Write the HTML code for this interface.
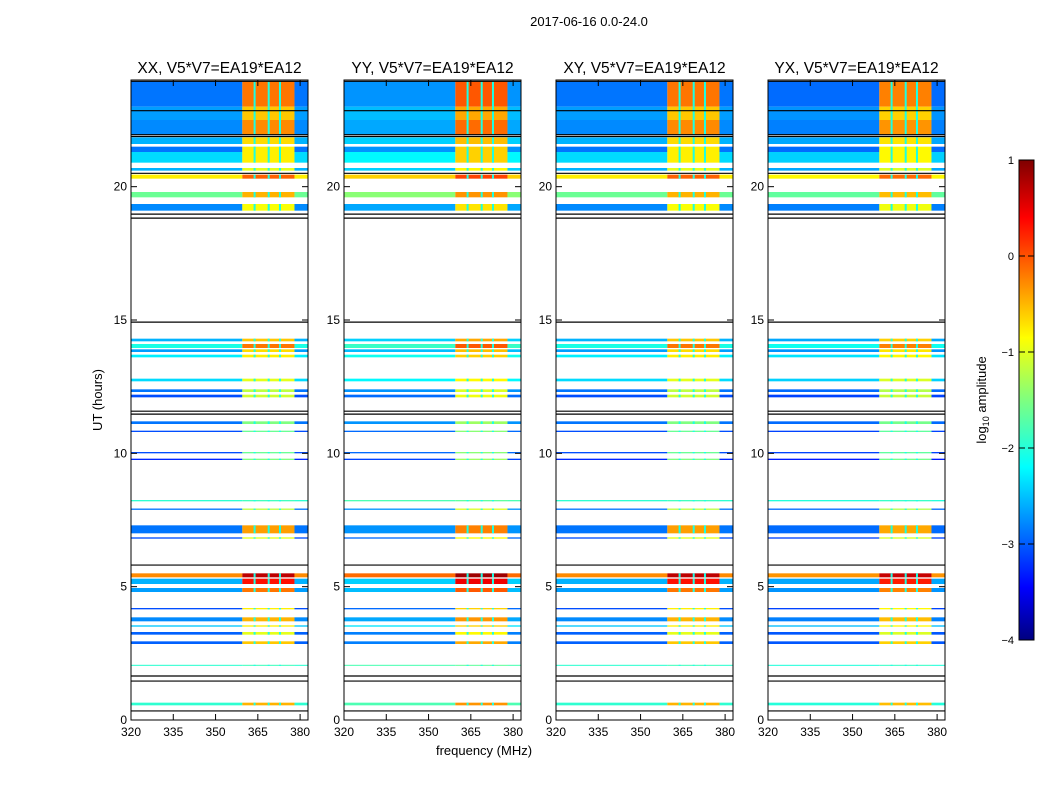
<!DOCTYPE html>
<html><head><meta charset="utf-8"><style>
body{margin:0;background:#fff;font-family:"Liberation Sans",sans-serif}
svg text{font-family:"Liberation Sans",sans-serif}
</style></head><body>
<svg id="c" width="1050" height="800" xmlns="http://www.w3.org/2000/svg">
<defs>
<linearGradient id="jet" x1="0" y1="1" x2="0" y2="0">
<stop offset="0" stop-color="#00007f"/><stop offset="0.11" stop-color="#0000ff"/>
<stop offset="0.36" stop-color="#00ffff"/><stop offset="0.5" stop-color="#7fff7f"/>
<stop offset="0.63" stop-color="#ffff00"/><stop offset="0.88" stop-color="#ff0000"/>
<stop offset="1" stop-color="#7f0000"/></linearGradient>
</defs>
<text x="589" y="26" font-size="13" text-anchor="middle">2017-06-16 0.0-24.0</text>
<text x="484" y="755" font-size="13" text-anchor="middle">frequency (MHz)</text>
<text transform="translate(102,400) rotate(-90)" font-size="13" text-anchor="middle">UT (hours)</text>
<g id="panels"></g>
<rect x="1019" y="160" width="15" height="480" fill="url(#jet)" stroke="#000"/>
<text transform="translate(986,400) rotate(-90)" font-size="13" text-anchor="middle">log<tspan font-size="9" dy="3">10</tspan><tspan dy="-3"> amplitude</tspan></text>
<g id="cbt"></g>
</svg>
<script>
const panelTitles=["XX, V5*V7=EA19*EA12","YY, V5*V7=EA19*EA12","XY, V5*V7=EA19*EA12","YX, V5*V7=EA19*EA12"];
const panelOffset=[0,0.15,0,-0.05];
// bands: [tStart, tEnd, lowFreqLevel, highFreqLevel]
const bandStart=[23.0,22.5,21.95,21.6,21.3,20.9,20.6,20.3,19.6,19.1,14.2,13.95,13.8,13.6,12.7,12.3,12.1,11.1,10.8,10.0,9.75,8.2,7.88,7.0,6.8,5.35,5.1,4.8,4.15,3.7,3.5,3.2,2.85,2.03,0.55];
const bandEnd  =[23.95,23.0,22.5,21.85,21.5,21.3,20.7,20.45,19.8,19.35,14.3,14.1,13.9,13.7,12.8,12.4,12.2,11.2,10.85,10.05,9.8,8.25,7.93,7.3,6.85,5.5,5.3,4.95,4.2,3.85,3.55,3.3,2.95,2.07,0.65];
const bandLow  =[-2.8,-2.6,-2.7,-2.5,-2.8,-2.3,-2.5,-0.8,-1.6,-2.7,-2.5,-2.0,-2.6,-2.2,-2.3,-2.8,-3.0,-2.8,-3.0,-3.0,-3.2,-1.9,-2.8,-2.8,-3.0,-0.3,-2.5,-2.6,-3.0,-2.7,-2.4,-2.9,-2.9,-1.9,-1.9];
const bandHigh =[-0.2,-0.6,-0.3,-0.7,-0.8,-0.8,-1.0,-0.1,-0.5,-0.9,-0.6,-0.2,-0.7,-0.8,-1.0,-1.2,-1.1,-1.5,-1.6,-1.6,-1.5,-1.8,-1.2,-0.4,-1.0,0.7,0.3,-0.2,-0.8,-0.5,-0.8,-1.0,-0.6,-1.8,-0.5];
const blackLines=[23.95,22.85,21.95,21.88,20.5,18.97,18.82,14.92,11.58,11.47,5.81,1.65,1.46,0.34];
const xTicks=[320,335,350,365,380];
const yTicks=[0,5,10,15,20];
const cbTicks=[1,0,-1,-2,-3,-4];
const panelLeft=[131,344,556,768];
const W=177,yTop=80,yBot=720,fMin=320,fMax=382.8,tMax=24;
const NS="http://www.w3.org/2000/svg";
function jet(v){let x=(v+4)/5;x=Math.max(0,Math.min(1,x));
 const r=Math.min(Math.max(Math.min(4*x-1.5,-4*x+4.5),0),1),g=Math.min(Math.max(Math.min(4*x-0.5,-4*x+3.5),0),1),b=Math.min(Math.max(Math.min(4*x+0.5,-4*x+2.5),0),1);
 return `rgb(${Math.round(r*255)},${Math.round(g*255)},${Math.round(b*255)})`;}
function mk(tag,at,parent){const e=document.createElementNS(NS,tag);for(const k in at)e.setAttribute(k,at[k]);parent.appendChild(e);return e;}
const P=document.getElementById('panels');
panelLeft.forEach((L,p)=>{
 const xs=f=>L+(f-fMin)/(fMax-fMin)*W, ys=t=>yBot-t/tMax*(yBot-yTop);
 const g=mk('g',{},P);
 
 
 bandStart.forEach((s,i)=>{
  const y0=ys(bandEnd[i]),h=ys(s)-y0,o=panelOffset[p];
  const r1=mk('rect',{x:xs(320),y:y0,width:xs(359.5)-xs(320),height:h,fill:jet(bandLow[i]+o)},g);
  
  
  const r2=mk('rect',{x:xs(359.5),y:y0,width:xs(378)-xs(359.5),height:h,fill:jet(bandHigh[i]+o)},g);
  
  
  mk('rect',{x:xs(378),y:y0,width:xs(fMax)-xs(378),height:h,fill:jet(bandLow[i]+o)},g);
  [363.5,368.5,372.5].forEach(f=>mk('rect',{x:xs(f),y:y0,width:2,height:h,fill:jet(-2.0)},g));
 });
 blackLines.forEach(t=>mk('line',{x1:L,x2:L+W,y1:ys(t),y2:ys(t),stroke:'#000','stroke-width':1.2},g));
 const fr=mk('rect',{x:L,y:yTop,width:W,height:yBot-yTop,fill:'none',stroke:'#000'},g);
 
 
 const tt=mk('text',{x:L+W/2,y:73,'font-size':15.5,'text-anchor':'middle'},g);tt.textContent=panelTitles[p];
 
 
 xTicks.forEach(f=>{const x=xs(f);mk('line',{x1:x,x2:x,y1:yBot,y2:yBot-6,stroke:'#000'},g);mk('line',{x1:x,x2:x,y1:yTop,y2:yTop+6,stroke:'#000'},g);
  const t=mk('text',{x:x,y:yBot+16,'font-size':12,'text-anchor':'middle'},g);t.textContent=f;
  
  });
 yTicks.forEach(v=>{const y=ys(v);mk('line',{x1:L,x2:L+6,y1:y,y2:y,stroke:'#000'},g);mk('line',{x1:L+W,x2:L+W-6,y1:y,y2:y,stroke:'#000'},g);
  const t=mk('text',{x:L-4,y:y+4,'font-size':12,'text-anchor':'end'},g);t.textContent=v;
  
  });
});
const C=document.getElementById('cbt');
cbTicks.forEach(v=>{const y=640-(v+4)/5*480;mk('line',{x1:1028,x2:1034,y1:y,y2:y,stroke:'#000'},C);mk('line',{x1:1019,x2:1025,y1:y,y2:y,stroke:'#000'},C);
 const t=mk('text',{x:1014,y:y+4,'font-size':11,'text-anchor':'end'},C);t.textContent=v<0?'\u2212'+(-v):v;
 
 });
</script>
</body></html>
